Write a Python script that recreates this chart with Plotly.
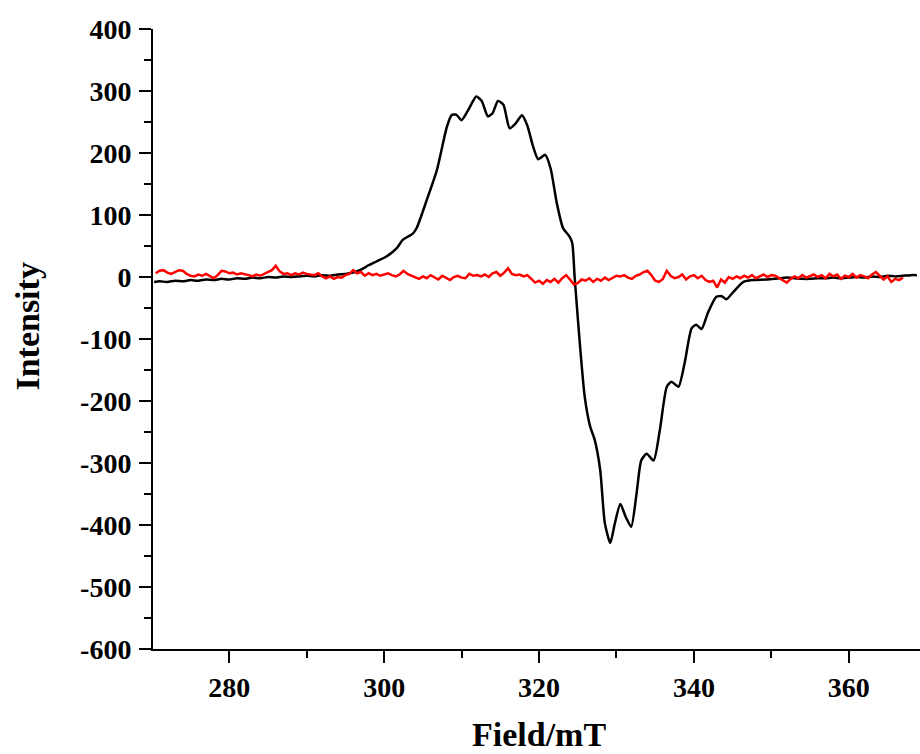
import plotly.graph_objects as go

# EPR spectrum of the sample (black) and the blank / control (red)
field_sample = [
    270.3, 271, 272, 273, 274, 275, 276, 277, 278, 279, 280, 281, 282, 283, 284,
    285, 286, 287, 288, 289, 290, 291, 292, 293, 294, 295, 296, 297, 298, 299,
    300.3, 301.6, 302.4, 303.2, 303.7, 304.2, 305.5, 306.8, 308.1, 308.7, 309.3,
    310.0, 310.8, 311.9, 312.6, 313.4, 314.0, 314.7, 315.4, 316.2, 317.0, 317.8,
    318.5, 319.2, 319.9, 320.8, 321.5, 322.3, 323.1, 323.95, 324.3, 324.6, 325.3,
    325.9, 326.6, 327.2, 327.9, 328.5, 329.2, 329.8, 330.5, 331.2, 331.9, 332.6,
    333.2, 333.9, 334.8, 335.6, 336.5, 337.1, 338.0, 338.8, 339.7, 340.3, 341.0,
    341.8, 342.9, 343.6, 344.2, 345.1, 346.4, 347.5, 349.4, 351, 352, 353, 354,
    355, 356, 357, 358, 359, 360, 361, 362, 363, 364, 365, 366, 367, 368, 368.8,
]
intensity_sample = [
    -8, -7, -8, -6, -7, -5, -6, -4, -5, -3, -4, -2, -3, -1, -2,
    0, -1, 1, 0, 1, 2, 1, 3, 2, 4, 5, 7, 12, 19, 25,
    33, 46, 60, 66, 70, 79, 124, 172, 242, 261, 262,
    253, 268, 291, 284, 259, 264, 284, 278, 240, 248, 261,
    244, 212, 190, 197, 175, 119, 79, 65, 54, 0, -112,
    -193, -241, -263, -311, -397, -429, -397, -366, -387, -403, -349,
    -296, -285, -296, -247, -177, -169, -177, -139, -83, -77, -84,
    -58, -32, -31, -36, -24, -8, -5, -4, -2, -1, -2, -3,
    -3, -2, -2, -1, -2, -1, 0, -1, 1, 0, 2, 1, 2, 3, 3,
]

field_blank = [270.0 + 0.5 * i for i in range(1, 195)]
intensity_blank = [
    # 270.5 - 280
    6, 10, 11, 7, 5, 8, 11, 10, 5, 2, 1, 4, 2, 5, 1, -2, 3, 10, 9, 6,
    # 280.5 - 290
    7, 4, 6, 5, 3, 1, 4, 2, 5, 8, 11, 18, 9, 5, 6, 3, 6, 4, 7, 5,
    # 290.5 - 300
    4, 3, 6, 1, -2, 1, -3, 0, -1, 3, 5, 11, 6, 8, 2, 6, 3, 5, 2, 4,
    # 300.5 - 310
    6, 3, 1, 4, 10, 5, 2, -1, -3, 1, -2, 3, 0, -4, 2, -1, -5, 0, 2, -1,
    # 310.5 - 320
    -2, 5, 2, 3, 1, 4, 0, 6, 8, 2, 7, 14, 5, 3, 4, 1, 3, -3, -9, -6,
    # 320.5 - 330
    -11, -5, -8, -3, -9, -2, 3, -4, -12, -10, -4, -6, -2, -8, -3, -6, -1, -5, -2, 2,
    # 330.5 - 340
    1, 3, -1, -3, 2, 4, 8, 10, 3, -6, -8, -3, 10, 2, -2, 0, 4, -4, 1, 3,
    # 340.5 - 350
    -2, 2, -5, -8, -6, -17, -4, -9, 0, -3, 1, -2, 2, -1, 3, -2, 1, 4, 0, 3,
    # 350.5 - 360
    2, -2, -6, -9, -3, 1, -2, 3, -1, 2, 4, 0, 3, -2, 5, 1, 4, -3, 2, 0,
    # 360.5 - 367
    5, -1, 3, 1, -2, 4, 8, 2, -4, 1, -8, -3, -5, -1,
]

y_ticks = [400, 300, 200, 100, 0, -100, -200, -300, -400, -500, -600]
y_tick_text = ["400", "300", "200", "100", "0", "-100", "-200", "-300",
               "-400", "-500", "-600"]
x_ticks = [280, 300, 320, 340, 360]

serif = "Liberation Serif, Times New Roman, serif"

fig = go.Figure()
fig.add_trace(go.Scatter(
    x=field_sample, y=intensity_sample, mode="lines",
    line=dict(color="black", width=2.5, shape="spline", smoothing=0.6),
    showlegend=False,
))
fig.add_trace(go.Scatter(
    x=field_blank, y=intensity_blank, mode="lines",
    line=dict(color="#ff0000", width=2.5),
    showlegend=False,
))

axis_common = dict(
    showline=True, linecolor="black", linewidth=2,
    ticks="outside", ticklen=12, tickwidth=2, tickcolor="black",
    showgrid=False, zeroline=False,
    tickfont=dict(family=serif, size=28, color="black", weight="bold"),
)

fig.update_xaxes(
    range=[270.15, 369.2], tickvals=x_ticks,
    minor=dict(ticks="outside", ticklen=7, tickwidth=2, tickcolor="black",
               dtick=10, tick0=270, showgrid=False),
    **axis_common,
)
fig.update_yaxes(
    range=[-600, 400], tickvals=y_ticks, ticktext=y_tick_text,
    ticklabelstandoff=2,
    minor=dict(ticks="outside", ticklen=7, tickwidth=2, tickcolor="black",
               dtick=50, tick0=0, showgrid=False),
    **axis_common,
)

fig.add_annotation(
    text="Intensity", textangle=-90, showarrow=False,
    xref="paper", yref="paper", x=-0.163, y=0.52,
    xanchor="center", yanchor="middle",
    font=dict(family=serif, size=34, color="black", weight="bold"),
)
fig.add_annotation(
    text="Field/mT", showarrow=False,
    xref="paper", yref="paper", x=0.5035, y=-0.138,
    xanchor="center", yanchor="middle",
    font=dict(family=serif, size=34, color="black", weight="bold"),
)

fig.update_layout(
    width=920, height=754,
    margin=dict(l=153, r=0, t=29, b=105),
    paper_bgcolor="white", plot_bgcolor="white",
)

fig.write_html("out.html")
